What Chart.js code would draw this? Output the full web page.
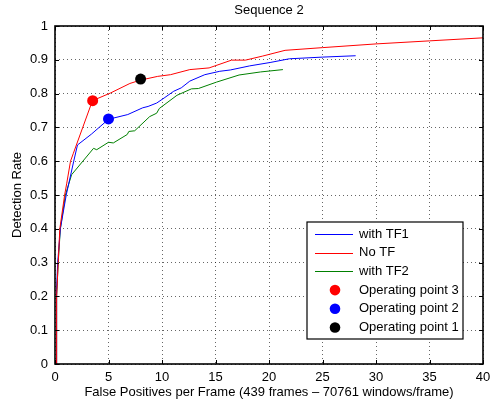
<!DOCTYPE html>
<html><head><meta charset="utf-8">
<script src="https://cdn.jsdelivr.net/npm/chart.js@4/dist/chart.umd.min.js"></script>
<style>html,body{margin:0;padding:0;background:#fff}canvas{display:block}</style>
</head><body>
<canvas id="c" width="490" height="405"></canvas>
<script>
const titleText = 'Sequence 2';
const xLabel = 'False Positives per Frame (439 frames \u2013 70761 windows/frame)';
const yLabel = 'Detection Rate';
const xTicks = [0, 5, 10, 15, 20, 25, 30, 35, 40];
const yTicks = [0, 0.1, 0.2, 0.3, 0.4, 0.5, 0.6, 0.7, 0.8, 0.9, 1];

const seriesNames = ['with TF1', 'No TF', 'with TF2'];
const tf1X = [0.1, 0.15, 0.25, 0.5, 1.05, 1.75, 2.1, 3.4, 5.0, 6.8, 8.2, 8.7, 9.5, 10.2, 11.1, 11.8, 12.6, 14.0, 15.4, 16.4, 18.2, 20.1, 21.9, 25.0, 28.1];
const tf1Y = [0, 0.22, 0.3, 0.4, 0.5, 0.6, 0.648, 0.68, 0.724, 0.738, 0.758, 0.762, 0.772, 0.787, 0.807, 0.817, 0.837, 0.856, 0.866, 0.870, 0.882, 0.892, 0.903, 0.908, 0.912];
const noTfX = [0.1, 0.15, 0.3, 0.45, 0.9, 1.1, 1.45, 1.7, 3.5, 5.2, 7.0, 8.0, 9.6, 10.8, 12.6, 14.4, 16.5, 17.8, 19.4, 21.5, 25.0, 30.0, 35.0, 40.0];
const noTfY = [0, 0.2, 0.3, 0.4, 0.5, 0.535, 0.6, 0.622, 0.779, 0.802, 0.830, 0.840, 0.851, 0.856, 0.871, 0.876, 0.899, 0.899, 0.911, 0.928, 0.936, 0.947, 0.956, 0.965];
const tf2X = [0.1, 0.15, 0.3, 0.5, 0.97, 1.55, 3.6, 3.9, 5.0, 5.45, 6.75, 6.9, 7.45, 8.85, 9.5, 9.75, 11.4, 12.75, 13.4, 15.1, 17.2, 19.2, 21.3];
const tf2Y = [0, 0.2, 0.3, 0.4, 0.5, 0.56, 0.638, 0.634, 0.656, 0.654, 0.679, 0.688, 0.690, 0.732, 0.742, 0.756, 0.795, 0.814, 0.815, 0.834, 0.855, 0.864, 0.871];

const opNames = ['Operating point 3', 'Operating point 2', 'Operating point 1'];
const opX = [3.52, 5.0, 8.0];
const opY = [0.779, 0.725, 0.843];

const FONT = "'Liberation Sans', Arial, Helvetica, sans-serif";
const FS = 13;
const lineColors = ['#0000ff', '#ff0000', '#008000'];
const opColors = ['#ff0000', '#0000ff', '#000000'];

const toPts = (xs, ys) => xs.map((x, i) => ({x: x, y: ys[i]}));
const lineSets = [[tf1X, tf1Y], [noTfX, noTfY], [tf2X, tf2Y]];

const datasets = [];
opNames.forEach((n, i) => datasets.push({
  label: n, data: [{x: opX[i], y: opY[i]}], showLine: false,
  pointRadius: 5.5, pointBackgroundColor: opColors[i], pointBorderWidth: 0,
  pointBorderColor: opColors[i], order: 0
}));
seriesNames.forEach((n, i) => datasets.push({
  label: n, data: toPts(lineSets[i][0], lineSets[i][1]), showLine: true,
  borderColor: lineColors[i], borderWidth: 1, pointRadius: 0, tension: 0, fill: false,
  order: i === 1 ? 1 : 2
}));

const framePlugin = {
  id: 'frame',
  afterDatasetsDraw(chart) {
    const c = chart.ctx, a = chart.chartArea;
    const sx = chart.scales.x, sy = chart.scales.y;
    c.save();
    c.strokeStyle = '#000';
    c.lineWidth = 1;
    c.beginPath();
    xTicks.forEach(v => {
      const p = Math.round(sx.getPixelForValue(v)) + 0.5;
      c.moveTo(p, a.bottom); c.lineTo(p, a.bottom - 4);
      c.moveTo(p, a.top); c.lineTo(p, a.top + 4);
    });
    yTicks.forEach(v => {
      const p = Math.round(sy.getPixelForValue(v)) + 0.5;
      c.moveTo(a.left, p); c.lineTo(a.left + 4, p);
      c.moveTo(a.right, p); c.lineTo(a.right - 4, p);
    });
    c.stroke();
    c.lineWidth = 1.6;
    c.strokeRect(a.left, a.top, a.right - a.left, a.bottom - a.top);
    // title
    c.fillStyle = '#000';
    c.font = FS + 'px ' + FONT;
    c.textAlign = 'center';
    c.textBaseline = 'middle';
    c.fillText(titleText, (a.left + a.right) / 2, a.top - 16);
    c.restore();
  },
  afterDraw(chart) {
    const c = chart.ctx, a = chart.chartArea;
    const bw = 156, bh = 117;
    const bx = a.right - 176, by = a.bottom - 25 - bh;
    c.save();
    c.fillStyle = '#fff';
    c.fillRect(bx, by, bw, bh);
    c.strokeStyle = '#000';
    c.lineWidth = 1.2;
    c.strokeRect(bx, by, bw, bh);
    c.font = FS + 'px ' + FONT;
    c.textAlign = 'left';
    c.textBaseline = 'middle';
    const rowH = 18.7;
    const items = [];
    seriesNames.forEach((n, i) => items.push({t: n, type: 'line', col: lineColors[i]}));
    opNames.forEach((n, i) => items.push({t: n, type: 'pt', col: opColors[i]}));
    items.forEach((it, i) => {
      const cy = by + 12 + i * rowH;
      if (it.type === 'line') {
        c.strokeStyle = it.col; c.lineWidth = 1;
        c.beginPath(); c.moveTo(bx + 8, Math.round(cy) + 0.5); c.lineTo(bx + 46, Math.round(cy) + 0.5); c.stroke();
      } else {
        c.fillStyle = it.col;
        c.beginPath(); c.arc(bx + 28, cy, 5.3, 0, Math.PI * 2); c.fill();
      }
      c.fillStyle = '#000';
      c.fillText(it.t, bx + 52, cy);
    });
    c.restore();
  }
};

const gridOpts = {color: 'rgba(0,0,0,0.6)', lineWidth: 1, drawTicks: false};

new Chart(document.getElementById('c').getContext('2d'), {
  type: 'scatter',
  data: {datasets: datasets},
  options: {
    responsive: false, animation: false, devicePixelRatio: 1,
    layout: {padding: {top: 26, right: 7, left: 0, bottom: 0}},
    plugins: {legend: {display: false}, tooltip: {enabled: false}, title: {display: false}},
    elements: {line: {tension: 0}},
    scales: {
      x: {
        type: 'linear', min: 0, max: 40,
        afterBuildTicks: s => { s.ticks = xTicks.map(v => ({value: v})); },
        afterFit: s => { s.height = 41; s.paddingRight = 0; s.paddingLeft = 0; },
        grid: gridOpts,
        border: {display: false, dash: [1, 3]},
        ticks: {padding: 6, color: '#000', font: {family: FONT, size: FS}, maxRotation: 0, autoSkip: false},
        title: {display: true, text: xLabel, color: '#000', font: {family: FONT, size: FS}, padding: {top: 0, bottom: 4.5}}
      },
      y: {
        type: 'linear', min: 0, max: 1,
        afterBuildTicks: s => { s.ticks = yTicks.map(v => ({value: v})); },
        afterFit: s => { s.width = 55; s.paddingTop = 0; s.paddingBottom = 0; },
        grid: gridOpts,
        border: {display: false, dash: [1, 3]},
        ticks: {padding: 7, color: '#000', font: {family: FONT, size: FS}, autoSkip: false,
          callback: v => String(+v.toFixed(1))},
        title: {display: true, text: yLabel, color: '#000', font: {family: FONT, size: FS}, padding: {top: 10, bottom: 0}}
      }
    }
  },
  plugins: [framePlugin]
});
</script>
</body></html>
